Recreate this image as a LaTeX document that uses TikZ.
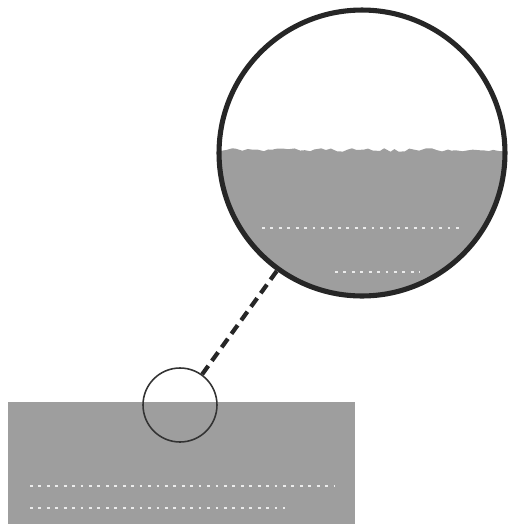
\documentclass[tikz,border=0pt]{standalone}
\usetikzlibrary{decorations.pathmorphing}
\definecolor{matgray}{HTML}{9E9E9E}
\tikzset{
  lens/.style={circle, draw=black!85, line width=2.9pt, minimum size=5.72cm, inner sep=0pt},
  spot/.style={circle, draw=black!80, line width=0.9pt, minimum size=1.48cm, inner sep=0pt},
  link/.style={draw=black!85, line width=2.4pt, dash pattern=on 6pt off 3.5pt},
  pores/.style={draw=white!80!matgray, line width=1.1pt, dash pattern=on 1.6pt off 3.2pt},
}
\begin{document}
\begin{tikzpicture}[x=0.02cm,y=-0.02cm]
\useasboundingbox (0,0) rectangle (508,525);
% material block
\fill[matgray] (8,402) rectangle (355,524);
\draw[pores] (30,486) -- (335,486);
\draw[pores] (30,508) -- (285,508);
% magnified material
\pgfmathsetseed{7}
\begin{scope}
  \clip (362,153) circle [radius=2.86cm];
  \fill[matgray] decorate[decoration={random steps, segment length=3pt, amplitude=1pt}]{(210,150) -- (512,150)} -- (512,310) -- (210,310) -- cycle;
  \draw[pores] (262,228) -- (462,228);
  \draw[pores] (335,272) -- (420,272);
\end{scope}
% lenses
\node[lens] (big) at (362,153) {};
\node[spot] (small) at (180,405) {};
\draw[link] (small) -- (big);
\end{tikzpicture}
\end{document}
